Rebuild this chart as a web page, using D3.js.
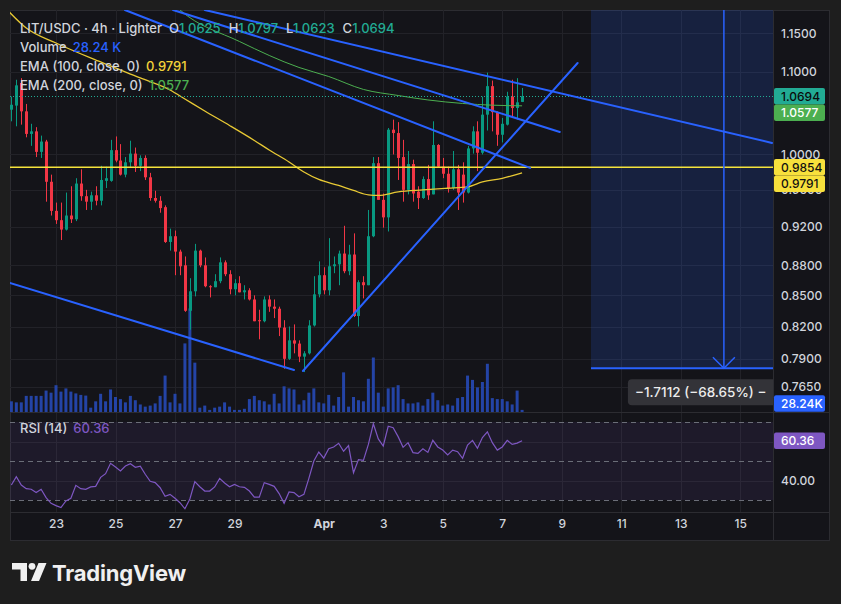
<!DOCTYPE html>
<html><head><meta charset="utf-8">
<script src="https://cdn.jsdelivr.net/npm/d3@7"></script>
<style>
html,body{margin:0;padding:0;background:#1e1e1e;}
svg{display:block;}
</style></head><body>
<svg id="c" width="841" height="604"></svg>
<script>
// ---------- DATA (4h candles, first candle Mar 21 12:00 UTC) ----------
const startTime = Date.UTC(2026, 2, 21, 12);
const barMs = 4 * 3600 * 1000;
const open  = [1.053,1.058,1.086,1.051,1.024,1.027,1.003,1.015,0.969,
 0.937,0.927,0.917,0.932,0.928,0.967,0.953,0.947,0.954,0.948,
 0.970,0.970,1.005,0.993,0.977,0.991,1.001,0.987,0.996,0.974,
 0.951,0.948,0.941,0.904,0.910,0.894,0.880,0.835,0.854,0.895,
 0.880,0.859,0.858,0.864,0.883,0.871,0.856,0.862,0.853,0.855,
 0.846,0.826,0.825,0.846,0.839,0.837,0.819,0.790,0.807,0.804,
 0.792,0.795,0.821,0.851,0.870,0.855,0.879,0.881,0.892,0.874,
 0.891,0.830,0.863,0.860,0.910,0.990,0.949,0.930,1.029,1.025,
 0.997,0.960,0.989,0.958,0.951,0.972,0.955,1.011,0.986,0.978,
 0.962,0.983,0.977,0.957,1.007,1.027,1.002,1.047,1.082,1.050,
 1.023,1.035,1.069,1.055,1.0625];
const high  = [1.069,1.090,1.092,1.060,1.036,1.032,1.022,1.017,0.977,
 0.946,0.946,0.957,0.964,0.973,0.983,0.960,0.958,0.964,0.987,
 0.986,1.017,1.021,1.012,0.997,1.016,1.008,0.999,0.999,0.979,
 0.959,0.953,0.943,0.918,0.916,0.896,0.889,0.867,0.902,0.896,
 0.888,0.860,0.871,0.888,0.885,0.875,0.866,0.869,0.860,0.857,
 0.850,0.836,0.849,0.850,0.846,0.839,0.826,0.820,0.822,0.807,
 0.797,0.826,0.869,0.884,0.878,0.908,0.889,0.895,0.921,0.901,
 0.913,0.865,0.869,0.938,0.997,0.997,0.956,1.031,1.041,1.038,
 1.017,1.004,0.994,0.964,0.975,0.988,1.039,1.012,0.996,0.986,
 1.004,0.988,0.991,1.010,1.033,1.039,1.069,1.099,1.089,1.051,
 1.043,1.075,1.090,1.092,1.0797];
const low   = [1.039,1.033,1.035,1.020,1.010,0.997,0.996,0.947,0.932,
 0.923,0.906,0.916,0.924,0.926,0.948,0.938,0.938,0.943,0.943,
 0.962,0.969,0.991,0.976,0.974,0.985,0.980,0.981,0.971,0.948,
 0.946,0.935,0.903,0.895,0.870,0.870,0.834,0.817,0.849,0.878,
 0.858,0.848,0.858,0.862,0.869,0.851,0.850,0.853,0.846,0.845,
 0.825,0.808,0.824,0.834,0.828,0.811,0.781,0.789,0.795,0.787,
 0.778,0.794,0.820,0.848,0.851,0.850,0.872,0.860,0.872,0.870,
 0.829,0.820,0.847,0.860,0.909,0.949,0.919,0.915,1.000,0.971,
 0.947,0.955,0.947,0.939,0.950,0.949,0.955,0.985,0.973,0.957,
 0.960,0.938,0.946,0.956,1.001,0.981,1.000,1.028,1.027,1.010,
 1.014,1.034,1.044,1.041,1.0623];
const close = [1.059,1.083,1.051,1.024,1.027,1.003,1.015,0.969,0.937,
 0.927,0.917,0.932,0.928,0.967,0.953,0.947,0.954,0.948,0.971,
 0.973,1.005,0.993,0.977,0.991,1.001,0.987,0.996,0.974,0.951,
 0.948,0.940,0.904,0.910,0.894,0.879,0.835,0.854,0.895,0.880,
 0.859,0.858,0.864,0.883,0.871,0.856,0.862,0.853,0.855,0.846,
 0.825,0.825,0.846,0.839,0.837,0.819,0.790,0.807,0.804,0.792,
 0.795,0.821,0.851,0.870,0.855,0.879,0.881,0.892,0.874,0.891,
 0.830,0.863,0.860,0.910,0.990,0.949,0.930,1.029,1.025,0.996,
 0.960,0.989,0.956,0.951,0.972,0.954,1.011,0.986,0.978,0.962,
 0.983,0.957,0.957,1.007,1.027,1.002,1.047,1.082,1.050,1.023,
 1.036,1.069,1.055,1.062,1.0694];
const volumeK = [143,129,129,216,216,216,216,287,259,
 359,273,316,273,249,229,220,58,143,244,
 143,302,201,173,129,216,158,101,72,86,
 115,216,488,129,244,115,919,1388,661,58,
 86,28,58,72,129,72,28,28,43,173,
 216,158,143,101,244,115,344,316,302,101,
 158,259,316,129,115,229,86,201,531,72,
 201,158,143,445,730,259,72,316,330,359,
 173,115,115,129,86,173,259,158,86,101,
 86,186,201,488,430,330,402,646,186,173,
 173,143,101,287,28.24];
const rsi = [37.7,42.0,37.7,35.8,35.5,33.8,35.5,31.2,28.3,
 27.1,26.1,29.5,30.9,37.5,35.8,35.5,36.7,37.0,41.6,
 43.5,48.8,46.9,44.9,47.4,48.6,46.8,47.4,43.2,39.6,
 38.9,36.3,31.9,32.9,30.9,28.6,25.5,30.5,39.4,36.8,
 34.6,34.6,36.7,41.1,38.7,36.8,38.0,36.8,36.5,34.6,
 31.5,31.5,38.9,38.0,37.0,33.3,28.3,34.1,33.8,31.7,
 32.9,41.1,50.0,54.6,51.5,56.3,57.2,59.1,55.0,57.9,
 44.0,50.7,50.3,58.5,69.1,61.3,57.7,67.8,67.1,62.5,
 57.0,59.4,54.3,53.9,56.3,54.4,60.6,57.2,55.6,53.1,
 55.6,54.8,51.4,58.2,60.6,56.5,62.0,65.0,59.4,55.6,
 57.2,60.6,58.5,59.2,60.36];
// EMA readings (bar index, value)
const ema100Idx = [-1,3,9,18,26,32,35,39,44,49,52,56,59,62,66,69,72,74,78,83,88,92,95,99,103];
const ema100Val = [1.1827,1.1571,1.1372,1.1126,1.0923,1.0772,1.0661,1.0514,1.0340,1.0163,1.0052,0.9914,0.9800,0.9716,0.9649,0.9593,0.9544,0.9538,0.9577,0.9599,0.9618,0.9632,0.9688,0.9729,0.9791];
const ema200Idx = [30,34,46,58,64,71,78,84,91,97,103];
const ema200Val = [1.2089,1.1814,1.1392,1.1056,1.0941,1.0779,1.0704,1.0649,1.0606,1.0585,1.0577];
// drawn trend lines: [bar index, price] -> [bar index, price]
const trendLines = [
  [[32.6,1.1814],[110.6,1.0263]],
  [[22.9,1.1814],[104.6,0.9846]],
  [[39.0,1.1814],[153.4,1.0134]],
  [[-0.3,0.8623],[57.0,0.7799]],
  [[58.8,0.7790],[114.2,1.1113]]
];
const levelPrice = 0.9854;
const lastPrice = 1.0694;
const measureTop = 2.4927, measureBottom = 0.7815;
const measureStartIdx = 116.9, measureArrowIdx = 143.7, measureEndIdx = 170.5;
const measureText = "\u22121.7112 (\u221268.65%) \u2212";
const priceTicks = [1.15,1.10,1.00,0.96,0.92,0.88,0.85,0.82,0.79,0.765];
const dateTicks = [[2,23],[2,25],[2,27],[2,29],[3,1],[3,3],[3,5],[3,7],[3,9],[3,11],[3,13],[3,15]];
const rsiTicks = [40];

// ---------- LAYOUT ----------
const W=841,H=604, PL=10, PR=773, PT=10, MB=412, RB=512, AB=541, FR=830;
const FONT = "Inter, Roboto, 'Noto Sans', sans-serif";
const TXT = "#d1d4dc";
const UP="#089981", DN="#f23645";
const svg = d3.select('#c');
const t = i => new Date(startTime + i*barMs);

svg.append('rect').attr('width',W).attr('height',H).attr('fill','#1e1e1e');
svg.append('rect').attr('x',PL+0.5).attr('y',PT+0.5).attr('width',FR-PL-1).attr('height',AB-PT-1)
  .attr('fill','#141419').attr('stroke','#2c2c31');

const x = d3.scaleTime().domain([new Date(Date.UTC(2026,2,23)), new Date(Date.UTC(2026,3,15))]).range([56, 740.25]);
const y = d3.scaleLog().domain([0.765,1.15]).range([386.7,33.3]);
const yv = d3.scaleLinear().domain([0,1400]).range([MB, MB-104.5]);
const yr = d3.scaleLinear().domain([30,70]).range([500,422]);
const xi = i => x(t(i));

const defs = svg.append('defs');
defs.append('clipPath').attr('id','cm').append('rect').attr('x',PL).attr('y',PT).attr('width',PR-PL).attr('height',MB-PT);
defs.append('clipPath').attr('id','cr').append('rect').attr('x',PL).attr('y',MB).attr('width',PR-PL).attr('height',RB-MB);

// grid
const dt = dateTicks.map(d=>new Date(Date.UTC(2026,d[0],d[1])));
const grid = svg.append('g').attr('stroke','#222228').attr('stroke-width',1);
dt.forEach(d=>grid.append('line').attr('x1',Math.round(x(d))+0.5).attr('x2',Math.round(x(d))+0.5).attr('y1',PT).attr('y2',RB));
priceTicks.forEach(p=>grid.append('line').attr('x1',PL).attr('x2',PR).attr('y1',Math.round(y(p))+0.5).attr('y2',Math.round(y(p))+0.5));
[40,60].forEach(v=>grid.append('line').attr('x1',PL).attr('x2',PR).attr('y1',Math.round(yr(v))+0.5).attr('y2',Math.round(yr(v))+0.5));

// pane separators
svg.append('line').attr('x1',PL).attr('x2',FR).attr('y1',MB+0.5).attr('y2',MB+0.5).attr('stroke','#2c2c31');
svg.append('line').attr('x1',PL).attr('x2',FR).attr('y1',RB+0.5).attr('y2',RB+0.5).attr('stroke','#2c2c31');
svg.append('line').attr('x1',PR+0.5).attr('x2',PR+0.5).attr('y1',PT).attr('y2',AB).attr('stroke','#2c2c31');

const main = svg.append('g').attr('clip-path','url(#cm)');

// volume
main.append('g').selectAll('rect').data(volumeK).join('rect')
  .attr('x',(d,i)=>xi(i)-1.5).attr('width',3)
  .attr('y',d=>yv(d)).attr('height',d=>MB-yv(d)).attr('fill','#2444a6');

// measure rectangle
const mx0 = xi(measureStartIdx), mx1 = xi(measureEndIdx), ma = xi(measureArrowIdx);
main.append('rect').attr('x',mx0).attr('y',y(measureTop)).attr('width',mx1-mx0).attr('height',y(measureBottom)-y(measureTop))
  .attr('fill','rgba(41,98,255,0.17)');

// candles
const cg = main.append('g');
open.forEach((o,i)=>{
  const c = close[i], col = c>=o?UP:DN, cx = Math.round(xi(i));
  cg.append('line').attr('x1',cx+0.5).attr('x2',cx+0.5).attr('y1',y(high[i])).attr('y2',y(low[i])).attr('stroke',col).attr('stroke-width',1);
  const yt = y(Math.max(o,c)), yb = y(Math.min(o,c));
  cg.append('rect').attr('x',cx-1).attr('width',3).attr('y',yt).attr('height',Math.max(1,yb-yt)).attr('fill',col);
});

// EMAs
const line = d3.line().curve(d3.curveMonotoneX);
main.append('path').attr('d',line(ema200Idx.map((k,j)=>[xi(k),y(ema200Val[j])]))).attr('fill','none').attr('stroke','#4caf50').attr('stroke-width',1);
main.append('path').attr('d',line(ema100Idx.map((k,j)=>[xi(k),y(ema100Val[j])]))).attr('fill','none').attr('stroke','#e8c934').attr('stroke-width',1.3);

// level line and last price line
main.append('line').attr('x1',PL).attr('x2',PR).attr('y1',y(levelPrice)).attr('y2',y(levelPrice)).attr('stroke','#f5e33c').attr('stroke-width',1.6);
main.append('line').attr('x1',PL).attr('x2',PR).attr('y1',Math.round(y(lastPrice))+0.5).attr('y2',Math.round(y(lastPrice))+0.5)
  .attr('stroke','#22ab94').attr('stroke-width',1).attr('stroke-dasharray','1 2');

// trend lines
trendLines.forEach(l=>main.append('line').attr('x1',xi(l[0][0])).attr('y1',y(l[0][1])).attr('x2',xi(l[1][0])).attr('y2',y(l[1][1]))
  .attr('stroke','#2962ff').attr('stroke-width',2).attr('stroke-linecap','round'));

// measure tool lines
const yb = y(measureBottom);
main.append('line').attr('x1',mx0).attr('x2',mx1).attr('y1',yb).attr('y2',yb).attr('stroke','#2962ff').attr('stroke-width',2);
main.append('line').attr('x1',ma).attr('x2',ma).attr('y1',y(measureTop)).attr('y2',yb).attr('stroke','#2962ff').attr('stroke-width',1.5);
main.append('path').attr('d',`M${ma-11},${yb-11}L${ma},${yb}L${ma+11},${yb-11}`).attr('fill','none').attr('stroke','#2962ff').attr('stroke-width',1.5);
const lab = main.append('g');
lab.append('rect').attr('x',ma-96).attr('y',yb+11).attr('width',200).attr('height',26).attr('rx',4).attr('fill','#333338');
lab.append('text').attr('x',ma-89).attr('y',yb+29).attr('fill','#ececec')
  .attr('font-family',FONT).attr('font-size',13.5).attr('font-weight',500).text(measureText);

// RSI pane
const rp = svg.append('g').attr('clip-path','url(#cr)');
rp.append('rect').attr('x',PL).attr('width',PR-PL).attr('y',yr(70)).attr('height',yr(30)-yr(70)).attr('fill','rgba(126,87,194,0.1)');
[70,50,30].forEach(v=>rp.append('line').attr('x1',PL).attr('x2',PR).attr('y1',Math.round(yr(v))+0.5).attr('y2',Math.round(yr(v))+0.5)
  .attr('stroke','#6b6e78').attr('stroke-dasharray','5 4'));
rp.append('path').attr('d',d3.line()(rsi.map((v,i)=>[xi(i),yr(v)]))).attr('fill','none').attr('stroke','#7e57c2').attr('stroke-width',1.2);

// price axis
const ax = svg.append('g').attr('transform',`translate(${PR},0)`)
  .call(d3.axisRight(y).tickValues(priceTicks).tickFormat(d3.format('.4f')).tickSize(0).tickPadding(8));
ax.select('.domain').remove();
ax.selectAll('text').attr('fill',TXT).attr('font-family',FONT).attr('font-size',12).attr('font-weight',500);
const rax = svg.append('g').attr('transform',`translate(${PR},0)`)
  .call(d3.axisRight(yr).tickValues(rsiTicks).tickFormat(d3.format('.2f')).tickSize(0).tickPadding(8));
rax.select('.domain').remove();
rax.selectAll('text').attr('fill',TXT).attr('font-family',FONT).attr('font-size',12).attr('font-weight',500);

// time axis
const tax = svg.append('g').attr('transform',`translate(0,${RB})`)
  .call(d3.axisBottom(x).tickValues(dt).tickFormat(d=>d.getUTCDate()===1?'Apr':String(d.getUTCDate())).tickSize(0).tickPadding(7));
tax.select('.domain').remove();
tax.selectAll('text').attr('fill',TXT).attr('font-family',FONT).attr('font-size',12).attr('font-weight',d=>d.getUTCDate()===1?700:500);

// axis badges
const badges = [
  {yv:y(lastPrice), bg:'#22ab94', fg:'#0b0b0b', t:lastPrice.toFixed(4)},
  {yv:y(ema200Val[ema200Val.length-1]), bg:'#4caf50', fg:'#ffffff', t:ema200Val[ema200Val.length-1].toFixed(4)},
  {yv:y(levelPrice), bg:'#f7e03c', fg:'#111111', t:levelPrice.toFixed(4)},
  {yv:y(ema100Val[ema100Val.length-1]), bg:'#f7e03c', fg:'#111111', t:ema100Val[ema100Val.length-1].toFixed(4)}
].sort((a,b)=>a.yv-b.yv);
let prev=-1e9;
badges.forEach(b=>{ b.cy=Math.max(b.yv, prev+16.5); prev=b.cy; });
badges.push({cy:MB-8.5, bg:'#2962ff', fg:'#ffffff', t:'28.24K'});
badges.push({cy:yr(rsi[rsi.length-1]), bg:'#7e57c2', fg:'#ffffff', t:rsi[rsi.length-1].toFixed(2)});
const bg = svg.append('g');
badges.forEach(b=>{
  bg.append('rect').attr('x',PR+1).attr('y',b.cy-8.25).attr('width',51).attr('height',16.5).attr('rx',2).attr('fill',b.bg);
  bg.append('text').attr('x',PR+8).attr('y',b.cy+4.3).attr('fill',b.fg).attr('font-family',FONT).attr('font-size',12).attr('font-weight',500).text(b.t);
});

// legends
const lg = svg.append('g').attr('font-family',FONT).attr('font-size',13).attr('font-weight',500);
const l1 = lg.append('text').attr('x',20).attr('y',32.5).attr('fill',TXT);
l1.append('tspan').text('LIT/USDC \u00b7 4h \u00b7 Lighter');
[['O',open],['H',high],['L',low],['C',close]].forEach((p,j)=>{
  l1.append('tspan').attr('dx',j===0?7:8).text(p[0]);
  l1.append('tspan').attr('fill','#22ab94').text(p[1][p[1].length-1].toFixed(4));
});
const l2 = lg.append('text').attr('x',20).attr('y',51.5).attr('fill',TXT);
l2.append('tspan').text('Volume');
l2.append('tspan').attr('dx',6).attr('fill','#2962ff').text(volumeK[volumeK.length-1].toFixed(2)+' K');
const l3 = lg.append('text').attr('x',20).attr('y',70.5).attr('fill',TXT);
l3.append('tspan').text('EMA (100, close, 0)');
l3.append('tspan').attr('dx',6).attr('fill','#f2d33a').text(ema100Val[ema100Val.length-1].toFixed(4));
const l4 = lg.append('text').attr('x',20).attr('y',89.5).attr('fill',TXT);
l4.append('tspan').text('EMA (200, close, 0)');
l4.append('tspan').attr('dx',6).attr('fill','#4caf50').text(ema200Val[ema200Val.length-1].toFixed(4));
const l5 = lg.append('text').attr('x',20).attr('y',432.5).attr('fill',TXT);
l5.append('tspan').text('RSI (14)');
l5.append('tspan').attr('dx',6).attr('fill','#7e57c2').text(rsi[rsi.length-1].toFixed(2));

// TradingView logo
const logo = svg.append('g').attr('fill','#f0f0f0');
logo.append('path').attr('d','M12,563H27V581H20.5V569.5H12Z');
logo.append('circle').attr('cx',32).attr('cy',566.3).attr('r',3.4);
logo.append('path').attr('d','M38.5,563H46.5L39,581H31Z');
logo.append('text').attr('x',52).attr('y',580.5).attr('font-family',FONT).attr('font-size',22).attr('font-weight',700).attr('letter-spacing',-0.2).text('TradingView');
</script>
</body></html>
